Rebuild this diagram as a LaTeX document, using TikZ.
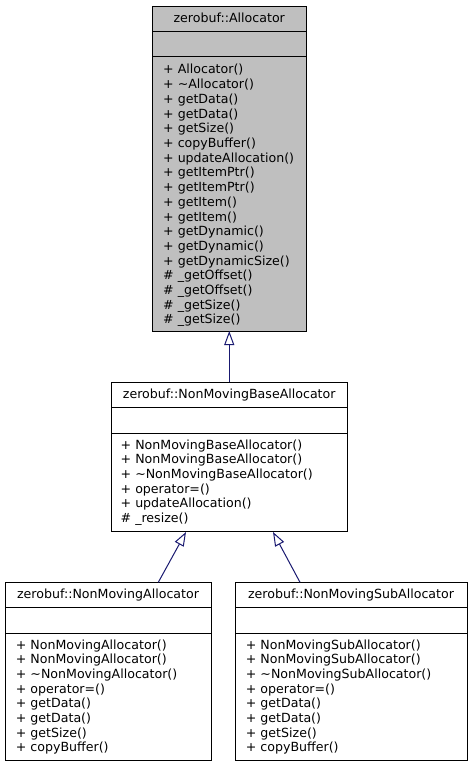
\documentclass[tikz,border=0pt]{standalone}
\usepackage{fontspec}
\setmainfont{DejaVu Sans}
\usetikzlibrary{arrows.meta}
\definecolor{boxgray}{HTML}{BFBFBF}
\definecolor{edgeblue}{HTML}{191970}
\begin{document}
\begin{tikzpicture}[x=1pt,y=-1pt,
  classbox/.style={draw=black, line width=1pt, inner sep=0pt, outer sep=0pt, anchor=north west},
  divider/.style={draw=black, line width=1pt},
  titletext/.style={font=\fontsize{12.6}{14.6}\selectfont, anchor=base, inner sep=0pt},
  member/.style={font=\fontsize{12.6}{14.6}\selectfont, anchor=base west, inner sep=0pt},
  inherit/.style={draw=edgeblue, line width=1pt, -{Triangle[open, length=14pt, width=10pt]}}
]
\useasboundingbox (0,0) rectangle (471,768);

% zerobuf::Allocator
\node[classbox, fill=boxgray, minimum width=154.5pt, minimum height=324pt] (alloc) at (152,7) {};
\draw[divider] (152,32) -- (306.5,32);
\draw[divider] (152,57) -- (306.5,57);
\node[titletext] (allocT) at (229.25,23) {zerobuf::Allocator};
\foreach \t [count=\i from 0] in {+ Allocator(), + \textasciitilde Allocator(), + getData(), + getData(), + getSize(), + copyBuffer(), + updateAllocation(), + getItemPtr(), + getItemPtr(), + getItem(), + getItem(), + getDynamic(), + getDynamic(), + getDynamicSize(), \# \_getOffset(), \# \_getOffset(), \# \_getSize(), \# \_getSize()}
  \node[member] (allocM\i) at (163,{74+14.7*\i}) {\t};

% zerobuf::NonMovingBaseAllocator
\node[classbox, fill=white, minimum width=236.5pt, minimum height=149.5pt] (base) at (111,382.3) {};
\draw[divider] (111,407.7) -- (347.5,407.7);
\draw[divider] (111,433.3) -- (347.5,433.3);
\node[titletext] (baseT) at (229.25,398.3) {zerobuf::NonMovingBaseAllocator};
\foreach \t [count=\i from 0] in {+ NonMovingBaseAllocator(), + NonMovingBaseAllocator(), + \textasciitilde NonMovingBaseAllocator(), + operator=(), + updateAllocation(), \# \_resize()}
  \node[member] (baseM\i) at (120.5,{449.3+14.6*\i}) {\t};

% zerobuf::NonMovingAllocator
\node[classbox, fill=white, minimum width=206pt, minimum height=178.5pt] (nma) at (5,582.3) {};
\draw[divider] (5,607.7) -- (211,607.7);
\draw[divider] (5,633.3) -- (211,633.3);
\node[titletext] (nmaT) at (108,598.3) {zerobuf::NonMovingAllocator};
\foreach \t [count=\i from 0] in {+ NonMovingAllocator(), + NonMovingAllocator(), + \textasciitilde NonMovingAllocator(), + operator=(), + getData(), + getData(), + getSize(), + copyBuffer()}
  \node[member] (nmaM\i) at (15.7,{649.3+14.63*\i}) {\t};

% zerobuf::NonMovingSubAllocator
\node[classbox, fill=white, minimum width=232pt, minimum height=178.5pt] (nmsa) at (235,582.3) {};
\draw[divider] (235,607.7) -- (467,607.7);
\draw[divider] (235,633.3) -- (467,633.3);
\node[titletext] (nmsaT) at (351,598.3) {zerobuf::NonMovingSubAllocator};
\foreach \t [count=\i from 0] in {+ NonMovingSubAllocator(), + NonMovingSubAllocator(), + \textasciitilde NonMovingSubAllocator(), + operator=(), + getData(), + getData(), + getSize(), + copyBuffer()}
  \node[member] (nmsaM\i) at (245.7,{649.3+14.63*\i}) {\t};

% inheritance connectors
\coordinate (nmaTop) at (158.3,582.3);
\coordinate (baseBotL) at (186,532);
\coordinate (nmsaTop) at (300,582.3);
\coordinate (baseBotR) at (273,532);
\draw[inherit] (base.north) -- (alloc.south);
\draw[inherit] (nmaTop) -- (baseBotL);
\draw[inherit] (nmsaTop) -- (baseBotR);
\end{tikzpicture}
\end{document}
